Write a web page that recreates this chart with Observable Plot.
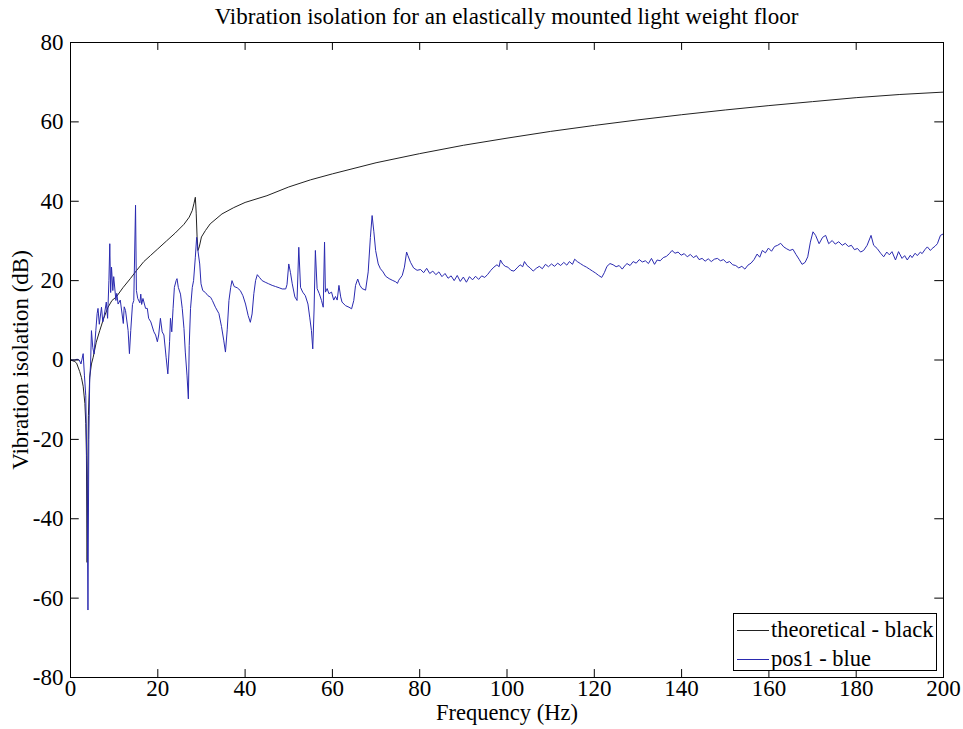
<!DOCTYPE html>
<html>
<head>
<meta charset="utf-8">
<script src="https://cdn.jsdelivr.net/npm/d3@7"></script>
<script src="https://cdn.jsdelivr.net/npm/@observablehq/plot@0.6"></script>
<style>
  html, body { margin: 0; padding: 0; background: #fff; }
  #wrap { position: relative; width: 963px; height: 729px; font-family: "Liberation Serif", "Times New Roman", serif; }
  #title { position: absolute; left: 70px; width: 873px; top: 3px; height: 28px; line-height: 28px; text-align: center; font-size: 23px; color: #000; white-space: nowrap; }
  #legend { position: absolute; left: 733px; top: 613px; width: 204px; height: 58px; border: 1px solid #000; background: #fff; box-sizing: border-box; font-size: 22.5px; }
  .item { position: absolute; left: 3px; height: 28px; display: flex; align-items: center; white-space: nowrap; }
  .sw { display: inline-block; width: 32px; height: 0; border-top: 1px solid; margin-right: 2px; }
</style>
</head>
<body>
<div id="wrap">
  <div id="chart"></div>
  <div id="title">Vibration isolation for an elastically mounted light weight floor</div>
  <div id="legend">
    <div class="item" style="top:2px"><span class="sw" style="border-color:#222"></span>theoretical - black</div>
    <div class="item" style="top:33px;height:24px"><span class="sw" style="border-color:#2a2ab0"></span>pos1 - blue</div>
  </div>
</div>
<script>
const xTicks = [0, 20, 40, 60, 80, 100, 120, 140, 160, 180, 200];
const yTicks = [-80, -60, -40, -20, 0, 20, 40, 60, 80];
const seriesNames = ["theoretical - black", "pos1 - blue"];

// theoretical curve
const theoFreq = [0, 1.0, 1.4, 2.1, 2.5, 2.9, 3.3, 3.5, 3.65, 3.8, 3.95, 4.1, 4.4, 4.8, 5.2, 5.9, 6.7, 7.6, 8.6, 9.5, 10.5, 12.0, 13.7, 15.1, 16.8, 18.3, 20.0, 22.0, 24.0, 26.0, 27.2, 27.9, 28.3, 28.6, 28.8, 29.0, 29.2, 29.5, 30.0, 30.9, 32.0, 34.7, 37.4, 40.0, 45.0, 50.0, 55.0, 60.0, 70.0, 80.0, 90.0, 100.0, 110.0, 120.0, 130.0, 140.0, 150.0, 160.0, 170.0, 180.0, 190.0, 200.0];
const theoVal  = [0, -0.4, -0.8, -2.9, -4.4, -6.6, -11, -16, -24, -51, -30, -14, -4.3, -1.0, 0.7, 4.5, 7.4, 10.5, 13.3, 15.0, 15.9, 18.2, 20.5, 22.5, 24.8, 26.3, 28.0, 30.0, 32.0, 34.2, 36.0, 37.7, 39.5, 41.0, 37.0, 31.0, 27.6, 28.5, 31.0, 32.6, 34.3, 36.8, 38.4, 39.7, 41.4, 43.6, 45.4, 46.9, 49.7, 52.0, 54.1, 55.9, 57.6, 59.1, 60.5, 61.8, 63.0, 64.1, 65.1, 66.1, 66.9, 67.5];

const posFreq = [0, 0.5, 1.0, 1.5, 2.0, 2.4, 2.9, 3.2, 3.5, 3.8, 4.0, 4.2, 4.4, 4.6, 4.8, 5.1, 5.4, 5.8, 6.1, 6.3, 6.6, 7.1, 7.4, 7.7, 8.2, 8.5, 8.8, 9.0, 9.2, 9.4, 9.7, 9.9, 10.4, 10.6, 10.9, 11.4, 12.1, 12.3, 12.6, 13.2, 13.5, 13.8, 14.2, 14.5, 14.9, 15.1, 15.4, 15.9, 16.1, 16.3, 16.6, 17.2, 17.6, 17.9, 18.4, 19.1, 19.5, 19.9, 20.2, 20.6, 21.0, 21.4, 21.9, 22.3, 22.7, 22.9, 23.2, 23.5, 23.8, 24.2, 24.4, 24.7, 25.2, 25.6, 26.0, 26.3, 26.7, 27.0, 27.2, 27.5, 27.9, 28.2, 28.6, 28.9, 29.2, 29.6, 29.9, 30.3, 30.9, 31.5, 32.1, 32.5, 33.2, 34.0, 34.6, 35.1, 35.5, 35.9, 36.3, 36.7, 37.0, 37.5, 38.2, 38.9, 39.5, 40.1, 40.7, 41.2, 41.6, 42.0, 42.4, 42.8, 43.3, 43.9, 44.6, 45.4, 46.2, 47.0, 47.8, 48.5, 49.3, 49.6, 50.0, 50.4, 50.8, 51.4, 51.9, 52.3, 52.7, 53.2, 53.8, 54.4, 54.8, 55.2, 55.5, 55.8, 56.1, 56.5, 57.0, 57.5, 57.9, 58.2, 58.4, 58.8, 59.2, 59.8, 60.3, 60.7, 61.1, 61.5, 61.9, 62.2, 63.0, 63.8, 64.4, 64.9, 65.3, 65.8, 66.3, 66.8, 67.6, 68.2, 68.7, 69.1, 69.5, 69.9, 70.5, 71.0, 71.6, 72.2, 73.0, 73.7, 74.5, 74.9, 75.2, 76.0, 76.5, 77.0, 77.3, 77.9, 78.6, 79.4,
  80.2, 80.9, 81.6, 82.3, 83.0, 83.7, 84.4, 85.1, 85.8, 86.5, 87.2, 87.9, 88.6, 89.3, 90.0, 90.7, 91.4, 92.1, 92.8, 93.5, 94.2, 94.9, 95.6, 96.3, 97.0, 97.7, 98.2, 98.5, 99.0, 99.6, 100.2, 100.9, 101.6, 102.3, 103.0, 103.6, 104.0, 104.6, 105.3, 106.0, 106.7, 107.4, 108.1, 108.8, 109.5, 110.2, 110.9, 111.6, 112.3, 113.0, 113.7, 114.3, 115.0, 115.5, 116.1, 116.8, 117.5, 118.2, 118.9, 119.6, 120.3, 121.0, 121.7, 122.3, 122.9, 123.6, 124.3, 125.0, 125.7, 126.4, 127.1, 127.5, 128.2, 128.9, 129.6, 130.3, 131.0, 131.7, 132.4, 133.1, 133.8, 134.4, 135.1, 135.8, 136.5, 137.2, 137.8, 138.5, 139.2, 139.9, 140.6, 141.3, 142.0, 142.7, 143.4, 144.0, 144.7, 145.4, 146.1, 146.8, 147.5, 148.2, 148.9, 149.6, 150.3, 151.0, 151.7, 152.4, 153.1, 153.8, 154.5, 155.2, 155.9, 156.6, 157.3, 157.9, 158.5, 159.2, 159.9, 160.6, 161.3, 162.0, 162.7, 163.4, 164.1, 164.8, 165.5, 166.2, 166.9, 167.6, 168.3, 168.9, 169.5, 170.1, 170.7, 171.5, 172.3, 173.0, 173.7, 174.5, 175.2, 176.0, 176.8, 177.5, 178.2, 178.9, 179.6, 180.3, 181.0, 181.7, 182.5, 183.4, 184.0, 184.8, 185.6, 186.3, 187.0, 187.6, 188.2, 189.0, 189.7, 190.5, 191.1, 191.7, 192.4, 192.8, 193.5, 194.0, 194.7, 195.1, 195.8, 196.3, 197.0, 197.4, 198.1, 198.6, 199.3, 200.0];
const posVal = [0, 0, 0, 0.2, 0, -1, 1.6, -4, -9, -30, -63, -20, -5, -1, 7.4, 3.2, 1.5, 7.4, 11.7, 13, 9, 13.3, 9.6, 11, 14.6, 10.5, 20, 29.3, 17, 23.4, 17.5, 21, 15, 16.8, 14.1, 15.1, 9.2, 13.4, 12.5, 7.4, 1.6, 7.4, 14, 15, 39, 17.5, 15.5, 14.4, 16.6, 14, 15.5, 13, 13, 10.5, 9.6, 7.1, 6.3, 4.6, 6.3, 10.5, 7.1, 6.3, 0.7, -3.5, 4.6, 10.5, 7.1, 13, 18.3, 20, 20.5, 18.3, 16.6, 13, 7.9, 2, -4, -9.8, 3.7, 13, 18.3, 20, 25.9, 30.9, 27.5, 24.2, 19.2, 17.5, 17, 16.2, 15.8, 15, 13.3, 11.7, 8.4, 5, 2, 7.6, 15, 18.3, 20, 18.5, 18.2, 17.5, 16.2, 14.1, 11.2, 9.5, 11.6, 16.7, 20, 21.5, 20.8, 20, 19.6, 19.2, 18.8, 18.5, 18.2, 17.9, 17.9, 19, 24.2, 22, 19.2, 15.9, 15, 28.4, 18.3, 17.1, 16.2, 14.1, 10.8, 7.4, 2.8, 12.6, 27.6, 18, 16.7, 15, 13.3, 29.7, 17.1, 18, 16.7, 17.1, 15.1, 16, 15.1, 18.8, 15.9, 14.6, 13.7, 13.3, 12.9, 15, 18.8, 20.4, 18.8, 18, 17.6, 22.2, 30.9, 36.4, 32.3, 27.6, 24.2, 23, 22.2, 21.1, 20.5, 20.1, 19.7, 19.3, 20.1, 21.3, 23.4, 27.2, 26.3, 24.6, 23.2, 22.6,
  22.8, 22.0, 23.1, 21.8, 22.4, 21.5, 22.2, 21.0, 21.8, 20.6, 21.2, 20.0, 21.3, 19.8, 20.9, 19.6, 21.0, 20.2, 21.1, 20.3, 21.2, 20.8, 21.6, 22.6, 23.4, 24.0, 23.5, 25.2, 24.2, 23.6, 23.4, 22.6, 22.4, 23.2, 24.0, 23.5, 24.8, 23.8, 23.2, 22.4, 23.1, 23.6, 23.0, 24.1, 23.5, 24.2, 23.6, 24.4, 23.8, 24.6, 23.9, 24.8, 24.1, 25.4, 24.8, 24.3, 23.8, 23.4, 22.9, 22.4, 21.9, 21.3, 20.8, 22.0, 23.6, 24.3, 24.0, 23.5, 23.8, 22.9, 23.9, 24.3, 23.8, 24.8, 24.4, 25.3, 24.7, 25.0, 24.3, 25.6, 24.1, 25.2, 25.0, 25.8, 26.1, 26.8, 27.6, 26.9, 27.2, 26.4, 26.8, 26.0, 26.6, 25.8, 26.3, 25.3, 25.6, 24.9, 25.5, 24.8, 25.4, 25.6, 25.0, 25.3, 24.5, 24.8, 24.0, 23.8, 23.2, 23.6, 22.9, 23.9, 24.4, 25.3, 26.7, 25.9, 27.6, 27.0, 28.2, 27.4, 28.6, 28.9, 29.4, 28.5, 28.0, 27.6, 27.9, 26.6, 25.4, 24.1, 24.6, 26.0, 29.7, 32.3, 31.4, 29.3, 30.9, 31.4, 29.3, 30.1, 29.2, 29.8, 28.9, 29.4, 28.6, 28.9, 27.8, 28.1, 27.2, 27.6, 28.9, 31.4, 28.9, 28.1, 26.9, 26.0, 27.2, 26.5, 27.3, 25.2, 27.3, 25.6, 26.3, 25.2, 26.4, 25.8, 26.9, 26.3, 27.2, 26.8, 27.9, 28.5, 27.6, 28.1, 28.7, 29.3, 31.4, 31.8];

const theo = theoFreq.map((f, i) => ({f, v: theoVal[i]}));
const pos = posFreq.map((f, i) => ({f, v: posVal[i]}));

const font = '"Liberation Serif", "Times New Roman", serif';

const chart = Plot.plot({
  width: 963,
  height: 729,
  marginTop: 42,
  marginBottom: 52,
  marginLeft: 70,
  marginRight: 20,
  style: {fontFamily: font, fontSize: "23px", color: "#000", background: "#fff", overflow: "visible"},
  x: {domain: [0, 200], ticks: xTicks, tickSize: 0, tickPadding: 2, tickFormat: d => String(d), label: null},
  y: {domain: [-80, 80], ticks: yTicks, tickSize: 0, tickPadding: 7, tickFormat: d => String(d), label: null},
  marks: [
    Plot.line(theo, {x: "f", y: "v", stroke: "#222", strokeWidth: 1}),
    Plot.line(pos, {x: "f", y: "v", stroke: "#2a2ab0", strokeWidth: 1}),
    Plot.ruleX(xTicks.slice(1, -1), {x: d => d, y1: -80, y2: -78, stroke: "#000"}),
    Plot.ruleX(xTicks.slice(1, -1), {x: d => d, y1: 80, y2: 78, stroke: "#000"}),
    Plot.ruleY(yTicks.slice(1, -1), {y: d => d, x1: 0, x2: 2, stroke: "#000"}),
    Plot.ruleY(yTicks.slice(1, -1), {y: d => d, x1: 200, x2: 198, stroke: "#000"}),
    Plot.frame({stroke: "#000"}),
    Plot.text(["Frequency (Hz)"], {text: d => d, frameAnchor: "bottom", dy: 42, fontSize: 22.5, fill: "#000", textAnchor: "middle"}),
    Plot.text(["Vibration isolation (dB)"], {text: d => d, frameAnchor: "left", dx: -50, rotate: -90, fontSize: 23, fill: "#000", textAnchor: "middle"})
  ]
});
document.getElementById("chart").appendChild(chart);
</script>
</body>
</html>
